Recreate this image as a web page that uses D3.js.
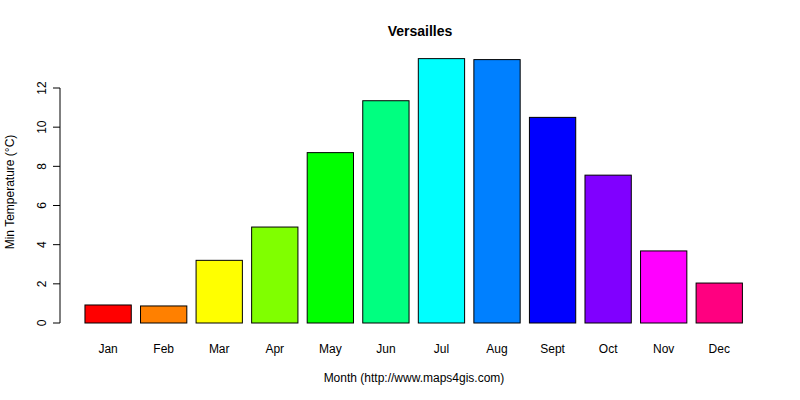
<!DOCTYPE html>
<html><head><meta charset="utf-8">
<script src="https://d3js.org/d3.v7.min.js"></script>
<style>body{margin:0;background:#fff}text{font-family:"Liberation Sans",Arial,sans-serif}</style>
</head><body>
<svg id="c" width="800" height="400"></svg>
<script>
const months = ["Jan","Feb","Mar","Apr","May","Jun","Jul","Aug","Sept","Oct","Nov","Dec"];
const values = [0.92,0.87,3.2,4.9,8.7,11.35,13.5,13.45,10.5,7.55,3.68,2.04];
const colors = ["#FF0000","#FF8000","#FFFF00","#80FF00","#00FF00","#00FF80","#00FFFF","#0080FF","#0000FF","#8000FF","#FF00FF","#FF0080"];
const yTicks = [0,2,4,6,8,10,12];

const svg = d3.select("#c");
const x = d3.scaleLinear().domain([0,14.4]).range([75.7,742.4]);
const y = d3.scaleLinear().domain([0,12]).range([323,88]);

svg.selectAll("rect.bar").data(values).enter().append("rect")
  .attr("x",(d,i)=>x(0.2+1.2*i)).attr("width",x(1)-x(0))
  .attr("y",d=>y(d)).attr("height",d=>y(0)-y(d))
  .attr("fill",(d,i)=>colors[i]).attr("stroke","#000").attr("stroke-width",1);

svg.selectAll("text.m").data(months).enter().append("text")
  .attr("x",(d,i)=>x(0.7+1.2*i)).attr("y",353).attr("text-anchor","middle")
  .attr("font-size",12).text(d=>d);

const ax = svg.append("g").attr("transform","translate(60,0)");
ax.append("line").attr("x1",0).attr("x2",0).attr("y1",y(0)).attr("y2",y(12)).attr("stroke","#000");
yTicks.forEach(t=>{
  ax.append("line").attr("x1",-7).attr("x2",0).attr("y1",y(t)).attr("y2",y(t)).attr("stroke","#000");
  ax.append("text").attr("transform",`translate(-14,${y(t)}) rotate(-90)`).attr("text-anchor","middle")
    .attr("font-size",12).text(t);
});

svg.append("text").attr("x",420).attr("y",36).attr("text-anchor","middle").attr("font-size",14)
  .attr("font-weight","bold").text("Versailles");
svg.append("text").attr("x",414).attr("y",382).attr("text-anchor","middle").attr("font-size",12)
  .text("Month (http://www.maps4gis.com)");
svg.append("text").attr("transform","translate(14,192) rotate(-90)").attr("text-anchor","middle")
  .attr("font-size",12).text("Min Temperature (°C)");
</script>
</body></html>
